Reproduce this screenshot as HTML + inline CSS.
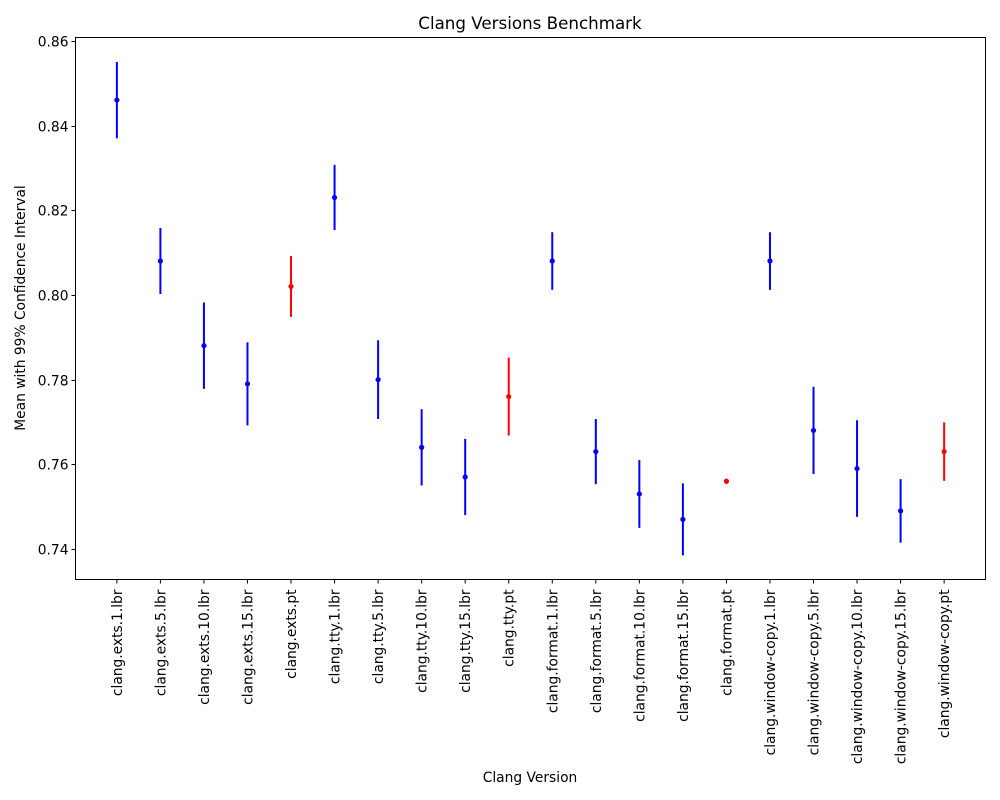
<!DOCTYPE html>
<html><head><meta charset="utf-8"><style>
html,body{margin:0;padding:0;background:#fff;}
svg{display:block;font-family:"DejaVu Sans","Liberation Sans",sans-serif;}
</style></head><body>
<svg id="chart" width="1000" height="800" viewBox="0 0 1000 800" xmlns="http://www.w3.org/2000/svg">
<rect width="1000" height="800" fill="#fff"/>
<text x="530" y="29" font-size="16.7" text-anchor="middle">Clang Versions Benchmark</text>
<text x="530" y="782" font-size="13.8" text-anchor="middle">Clang Version</text>
<text transform="translate(25,308) rotate(-90)" font-size="13.8" text-anchor="middle">Mean with 99% Confidence Interval</text>
<g id="grid"></g>
<rect x="75.5" y="37.5" width="910" height="542" fill="none" stroke="#000" stroke-width="1"/>
</svg>
<script>
const categories = ["clang.exts.1.lbr","clang.exts.5.lbr","clang.exts.10.lbr","clang.exts.15.lbr","clang.exts.pt","clang.tty.1.lbr","clang.tty.5.lbr","clang.tty.10.lbr","clang.tty.15.lbr","clang.tty.pt","clang.format.1.lbr","clang.format.5.lbr","clang.format.10.lbr","clang.format.15.lbr","clang.format.pt","clang.window-copy.1.lbr","clang.window-copy.5.lbr","clang.window-copy.10.lbr","clang.window-copy.15.lbr","clang.window-copy.pt"];
const means = [0.846,0.808,0.788,0.779,0.802,0.823,0.780,0.764,0.757,0.776,0.808,0.763,0.753,0.747,0.756,0.808,0.768,0.759,0.749,0.763];
const errors = [0.009,0.0078,0.0102,0.0098,0.0072,0.0077,0.0093,0.009,0.009,0.0092,0.0068,0.0077,0.008,0.0085,0.0006,0.0068,0.0103,0.0114,0.0075,0.0069];
const isPt = [false,false,false,false,true,false,false,false,false,true,false,false,false,false,true,false,false,false,false,true];
const yTicks = [0.74,0.76,0.78,0.80,0.82,0.84,0.86];

const NS="http://www.w3.org/2000/svg";
const svg=document.getElementById('chart');
const g=document.getElementById('grid');
const L=75.5,R=985.5,T=37.5,B=579.5;
const xmin=-0.95, xmax=categories.length-1+0.95;
function xs(i){return L+(i-xmin)/(xmax-xmin)*(R-L);}
function ys(v){return 549+(0.74-v)/0.02*84.7;}
function mk(tag,attrs,parent){const e=document.createElementNS(NS,tag);for(const k in attrs)e.setAttribute(k,attrs[k]);(parent||svg).appendChild(e);return e;}

yTicks.forEach(v=>{
  const y=Math.round(ys(v))+0.5;
  const t=mk('line',{x1:L-4,x2:L,y1:y,y2:y,stroke:'#000'},g);
  
  
  const tx=mk('text',{x:L-7,y:y+5,'font-size':13.8,'text-anchor':'end'},g);
  tx.textContent=v.toFixed(2);
  
  
});
categories.forEach((c,i)=>{
  const x=xs(i);
  const t=mk('line',{x1:x,x2:x,y1:B,y2:B+4,stroke:'#000'},g);
  
  
  const tx=mk('text',{transform:`translate(${x+5},${B+10}) rotate(-90)`,'font-size':13.8,'text-anchor':'end'},g);
  tx.textContent=c;
  
  
  const col=isPt[i]?'#ff0000':'#0000ff';
  const eb=mk('line',{x1:x,x2:x,y1:ys(means[i]+errors[i]),y2:ys(means[i]-errors[i]),stroke:col,'stroke-width':2});
  
  
  const p=mk('circle',{cx:x,cy:ys(means[i]),r:2.6,fill:col});
  
  
});
</script>
</body></html>
